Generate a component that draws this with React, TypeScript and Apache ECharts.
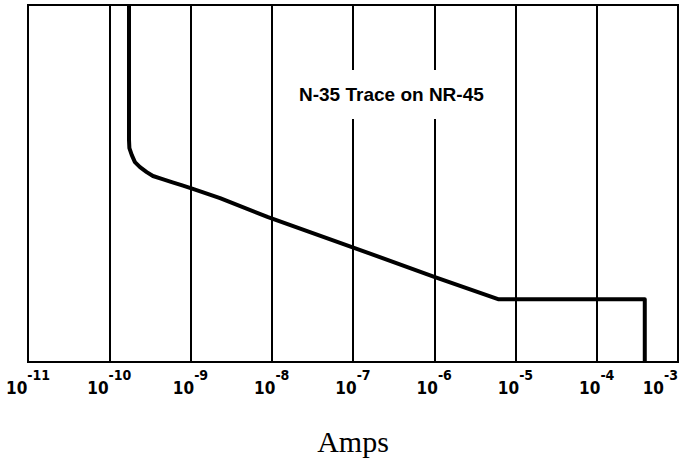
import React, { useEffect, useRef } from "react";
import * as echarts from "echarts";

// Trace (x: current in amps, y: relative vertical position 0..100)
const currentAmps = [
  1.75e-10, 1.75e-10, 1.77e-10, 1.89e-10, 2.07e-10, 2.39e-10, 2.89e-10, 3.45e-10,
  4.43e-10, 5.88e-10, 8.09e-10, 1.07e-9, 2.31e-9, 9.0e-9, 9.7e-8, 1.02e-6, 6.1e-6,
  3.9e-4, 3.9e-4,
];
const traceLevel = [
  100, 62.2, 59.9, 58.0, 56.0, 54.6, 53.2, 52.1, 51.3, 50.4, 49.4, 48.5, 45.9,
  40.6, 32.2, 23.8, 17.6, 17.6, 0,
];
const tickExponents = ["-11", "-10", "-9", "-8", "-7", "-6", "-5", "-4", "-3"];
const firstExponent = -11;
const lastExponent = -3;
const chartTitle = "N-35 Trace on NR-45";
const axisName = "Amps";

export default function App() {
  const ref = useRef<HTMLDivElement>(null);
  useEffect(() => {
    if (!ref.current) return;
    const chart = echarts.init(ref.current, null, { renderer: "svg" });
    const data = currentAmps.map((x, i) => [x, traceLevel[i]]);
    const labelFont = "'DejaVu Sans Condensed', 'Liberation Sans Narrow', 'Liberation Sans', sans-serif";
    chart.setOption({
      animation: false,
      backgroundColor: "#fff",
      grid: {
        left: 28,
        right: 6,
        top: 5,
        bottom: 103,
        show: true,
        borderColor: "#000",
        borderWidth: 2,
        outerBoundsMode: "none",
        containLabel: false,
      },
      xAxis: {
        type: "log",
        logBase: 10,
        min: Math.pow(10, firstExponent),
        max: Math.pow(10, lastExponent),
        name: axisName,
        nameLocation: "middle",
        nameGap: 64,
        nameTextStyle: {
          fontFamily: "'Liberation Serif', 'Times New Roman', serif",
          fontSize: 30,
          color: "#000",
        },
        axisLine: { show: false },
        axisTick: { show: false },
        splitLine: { show: true, lineStyle: { color: "#000", width: 2 } },
        minorSplitLine: { show: false },
        axisLabel: {
          margin: 6,
          showMinLabel: true,
          showMaxLabel: true,
          hideOverlap: false,
          alignMaxLabel: "right",
          formatter: (v: number) => {
            const e = Math.round(Math.log10(v));
            const lab = tickExponents[e - firstExponent] ?? String(e);
            return `{b|10}{s|${lab}}`;
          },
          rich: {
            b: {
              fontFamily: labelFont,
              fontWeight: "bold",
              fontSize: 17,
              color: "#000",
              lineHeight: 28,
              verticalAlign: "bottom",
            },
            s: {
              fontFamily: labelFont,
              fontWeight: "bold",
              fontSize: 14,
              color: "#000",
              lineHeight: 10,
              verticalAlign: "top",
            },
          },
        },
      },
      yAxis: {
        type: "value",
        min: 0,
        max: 100,
        axisLine: { show: false },
        axisTick: { show: false },
        axisLabel: { show: false },
        splitLine: { show: false },
      },
      graphic: [
        {
          type: "text",
          left: 296,
          top: 70,
          z: 100,
          style: {
            text: chartTitle,
            fontFamily: "'Liberation Sans', Arial, sans-serif",
            fontWeight: 900,
            fontSize: 19,
            fill: "#000",
            backgroundColor: "#fff",
            padding: [15, 3, 15, 3],
          },
        },
      ],
      series: [
        {
          type: "line",
          data,
          showSymbol: false,
          symbol: "none",
          lineStyle: { color: "#000", width: 4, join: "round" },
          z: 5,
        },
      ],
    });
    return () => chart.dispose();
  }, []);
  return <div ref={ref} style={{ width: 684, height: 465, position: "absolute", left: 0, top: 0 }} />;
}
